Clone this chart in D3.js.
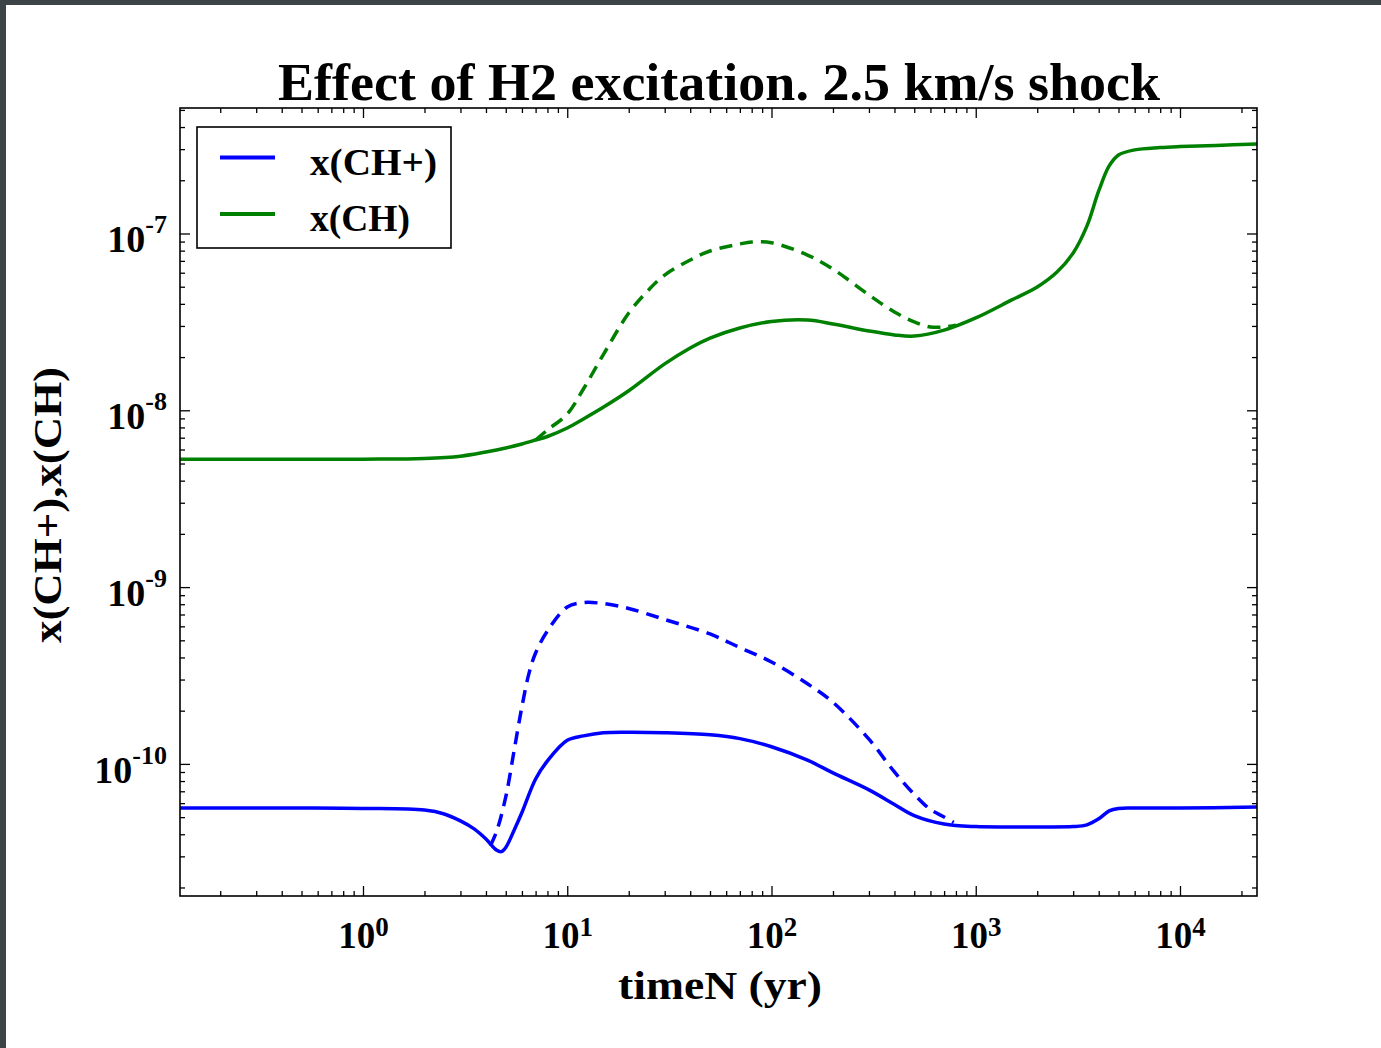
<!DOCTYPE html>
<html>
<head>
<meta charset="utf-8">
<script src="https://cdn.jsdelivr.net/npm/d3@7"></script>
<style>
  body { margin: 0; background: #fff; }
  svg { display: block; }
  text { font-family: "Liberation Serif", "DejaVu Serif", serif; font-weight: bold; fill: #000; }
</style>
</head>
<body>
<svg id="chart" width="1381" height="1048"></svg>
<script>
// ---- data: abundances vs. time (yr) ----
// x(CH), solid
const chTime   = [0.127, 0.3, 1, 2, 3, 4, 5, 6, 7, 8, 10, 12, 15, 20, 30, 40, 50, 70, 100, 150, 200, 300, 400, 500, 700, 1000, 1500, 2000, 2500, 3000, 3500, 4000, 4500, 5000, 6000, 8000, 10000, 15000, 23826];
const chSolid  = [5.28e-9, 5.28e-9, 5.29e-9, 5.34e-9, 5.50e-9, 5.81e-9, 6.12e-9, 6.45e-9, 6.79e-9, 7.11e-9, 7.94e-9, 8.93e-9, 1.04e-8, 1.29e-8, 1.83e-8, 2.25e-8, 2.56e-8, 2.92e-8, 3.18e-8, 3.24e-8, 3.08e-8, 2.81e-8, 2.67e-8, 2.63e-8, 2.84e-8, 3.33e-8, 4.21e-8, 4.98e-8, 6.05e-8, 7.76e-8, 1.10e-7, 1.74e-7, 2.41e-7, 2.78e-7, 2.97e-7, 3.06e-7, 3.10e-7, 3.15e-7, 3.21e-7];
// x(CH), dashed
const chDashTime = [7, 8, 10, 12, 15, 20, 25, 30, 40, 50, 70, 80, 100, 150, 200, 300, 400, 500, 600, 700, 800];
const chDashed   = [6.79e-9, 7.74e-9, 9.53e-9, 1.32e-8, 2.06e-8, 3.55e-8, 4.79e-8, 5.82e-8, 7.08e-8, 7.96e-8, 8.72e-8, 8.95e-8, 8.87e-8, 7.55e-8, 6.29e-8, 4.49e-8, 3.60e-8, 3.16e-8, 2.96e-8, 2.96e-8, 3.03e-8];
// x(CH+), solid
const chpTime  = [0.127, 0.5, 1, 2, 2.5, 3, 3.5, 4, 4.5, 4.75, 5, 5.5, 6, 7, 8, 10, 12, 15, 20, 30, 50, 70, 100, 150, 200, 300, 400, 500, 700, 1000, 1500, 2000, 3000, 3500, 4000, 4500, 5000, 6000, 10000, 23826];
const chpSolid = [5.63e-11, 5.63e-11, 5.60e-11, 5.48e-11, 5.21e-11, 4.76e-11, 4.29e-11, 3.76e-11, 3.26e-11, 3.19e-11, 3.37e-11, 4.23e-11, 5.31e-11, 8.22e-11, 1.04e-10, 1.36e-10, 1.44e-10, 1.50e-10, 1.51e-10, 1.50e-10, 1.46e-10, 1.39e-10, 1.25e-10, 1.05e-10, 8.89e-11, 7.13e-11, 5.90e-11, 5.10e-11, 4.57e-11, 4.42e-11, 4.40e-11, 4.40e-11, 4.42e-11, 4.52e-11, 4.89e-11, 5.42e-11, 5.60e-11, 5.63e-11, 5.63e-11, 5.70e-11];
// x(CH+), dashed
const chpDashTime = [4.2, 4.5, 5, 5.5, 6, 6.5, 7, 8, 10, 12, 15, 20, 30, 50, 70, 100, 150, 200, 300, 400, 500, 600, 700, 780];
const chpDashed   = [3.44e-11, 4.12e-11, 6.50e-11, 1.20e-10, 2.11e-10, 3.26e-10, 4.24e-10, 5.65e-10, 7.71e-10, 8.18e-10, 8.07e-10, 7.57e-10, 6.56e-10, 5.43e-10, 4.55e-10, 3.77e-10, 2.84e-10, 2.23e-10, 1.38e-10, 9.00e-11, 6.73e-11, 5.52e-11, 5.01e-11, 4.66e-11];

// ticks
const xMajorExp = [0, 1, 2, 3, 4];
const yMajorExp = [-10, -9, -8, -7];
const legendLabels = ["x(CH+)", "x(CH)"];

const colors = { chp: "#0000ff", ch: "#008000" };

// ---- layout ----
const svg = d3.select("#chart");
const W = 1381, H = 1048;
const plot = { left: 180, right: 1257, top: 108, bottom: 896 };

svg.append("rect").attr("width", W).attr("height", H).attr("fill", "#fff");
// dark frame strips at the window edges
svg.append("rect").attr("x", 0).attr("y", 0).attr("width", W).attr("height", 5).attr("fill", "#3c4448");
svg.append("rect").attr("x", 0).attr("y", 0).attr("width", 6).attr("height", H).attr("fill", "#3c4448");

const x = d3.scaleLog().domain([0.12707, 23826]).range([plot.left, plot.right]);
const y = d3.scaleLog().domain([1.790e-11, 5.126e-7]).range([plot.bottom, plot.top]);

// minor tick values (2..9 per decade inside the domain)
function minors(scale, kFrom, kTo) {
  const [a, b] = scale.domain();
  const out = [];
  for (let k = kFrom; k <= kTo; k++)
    for (let m = 2; m <= 9; m++) {
      const v = m * Math.pow(10, k);
      if (v >= a && v <= b) out.push(v);
    }
  return out;
}
const xMinor = minors(x, -1, 4);
const yMinor = minors(y, -11, -7);
const xMajor = xMajorExp.map(e => Math.pow(10, e));
const yMajor = yMajorExp.map(e => Math.pow(10, e));

// ---- curves ----
const line = d3.line().x(d => x(d[0])).y(d => y(d[1])).curve(d3.curveCatmullRom.alpha(0.5));
const zip = (t, v) => t.map((ti, i) => [ti, v[i]]);

const curves = svg.append("g");
curves.append("path").attr("d", line(zip(chDashTime, chDashed)))
  .attr("fill", "none").attr("stroke", colors.ch).attr("stroke-width", 3.5).attr("stroke-dasharray", "13,8");
curves.append("path").attr("d", line(zip(chpDashTime, chpDashed)))
  .attr("fill", "none").attr("stroke", colors.chp).attr("stroke-width", 3.5).attr("stroke-dasharray", "13,8");
curves.append("path").attr("d", line(zip(chTime, chSolid)))
  .attr("fill", "none").attr("stroke", colors.ch).attr("stroke-width", 3.5);
curves.append("path").attr("d", line(zip(chpTime, chpSolid)))
  .attr("fill", "none").attr("stroke", colors.chp).attr("stroke-width", 3.5);

// ---- axes (ticks point inward on all four sides) ----
function tickGroup(axis, tx, ty) {
  const g = svg.append("g").attr("transform", `translate(${tx},${ty})`).call(axis);
  g.select(".domain").remove();
  g.selectAll(".tick line").attr("stroke", "#000").attr("stroke-width", 1.3);
  return g;
}
// minor ticks
tickGroup(d3.axisBottom(x).tickValues(xMinor).tickSize(-5).tickFormat(() => ""), 0, plot.bottom);
tickGroup(d3.axisTop(x).tickValues(xMinor).tickSize(-5).tickFormat(() => ""), 0, plot.top);
tickGroup(d3.axisLeft(y).tickValues(yMinor).tickSize(-5).tickFormat(() => ""), plot.left, 0);
tickGroup(d3.axisRight(y).tickValues(yMinor).tickSize(-5).tickFormat(() => ""), plot.right, 0);
// major ticks
const xb = tickGroup(d3.axisBottom(x).tickValues(xMajor).tickSize(-10), 0, plot.bottom);
tickGroup(d3.axisTop(x).tickValues(xMajor).tickSize(-10).tickFormat(() => ""), 0, plot.top);
const yl = tickGroup(d3.axisLeft(y).tickValues(yMajor).tickSize(-10), plot.left, 0);
tickGroup(d3.axisRight(y).tickValues(yMajor).tickSize(-10).tickFormat(() => ""), plot.right, 0);

// power-of-ten labels with superscript exponents
xb.selectAll(".tick text").each(function (d) {
  const t = d3.select(this).text(null)
    .attr("y", 52).attr("dy", null).attr("font-size", 37).attr("text-anchor", "middle")
    .attr("font-family", null).attr("fill", "#000");
  t.append("tspan").text("10");
  t.append("tspan").attr("dy", -12).attr("font-size", 27).text(Math.round(Math.log10(d)));
});
yl.selectAll(".tick text").each(function (d) {
  const t = d3.select(this).text(null)
    .attr("x", -13).attr("y", 18.5).attr("dy", null).attr("font-size", 38).attr("text-anchor", "end")
    .attr("font-family", null).attr("fill", "#000");
  t.append("tspan").text("10");
  t.append("tspan").attr("dy", -19).attr("font-size", 26).text(String(Math.round(Math.log10(d))));
});

// plot frame
svg.append("rect")
  .attr("x", plot.left).attr("y", plot.top)
  .attr("width", plot.right - plot.left).attr("height", plot.bottom - plot.top)
  .attr("fill", "none").attr("stroke", "#000").attr("stroke-width", 1.6);

// ---- titles ----
svg.append("text").attr("x", 719).attr("y", 100).attr("text-anchor", "middle")
  .attr("font-size", 52).attr("textLength", 882).attr("lengthAdjust", "spacingAndGlyphs")
  .text("Effect of H2 excitation. 2.5 km/s shock");
svg.append("text").attr("x", 720).attr("y", 999).attr("text-anchor", "middle")
  .attr("font-size", 39).attr("textLength", 204).attr("lengthAdjust", "spacingAndGlyphs")
  .text("timeN (yr)");
svg.append("text").attr("transform", "translate(61,505) rotate(-90)").attr("text-anchor", "middle")
  .attr("font-size", 39).attr("textLength", 276).attr("lengthAdjust", "spacingAndGlyphs")
  .text("x(CH+),x(CH)");

// ---- legend ----
const leg = svg.append("g");
leg.append("rect").attr("x", 197).attr("y", 127).attr("width", 254).attr("height", 121)
  .attr("fill", "#fff").attr("stroke", "#000").attr("stroke-width", 1.6);
const legColors = [colors.chp, colors.ch];
const legWidths = [127, 100];
legendLabels.forEach((lab, i) => {
  const cy = 157.5 + i * 56.5;
  leg.append("line").attr("x1", 220).attr("x2", 275).attr("y1", cy).attr("y2", cy)
    .attr("stroke", legColors[i]).attr("stroke-width", 4);
  leg.append("text").attr("x", 310).attr("y", cy + 17).attr("font-size", 37)
    .attr("textLength", legWidths[i]).attr("lengthAdjust", "spacingAndGlyphs").text(lab);
});
</script>
</body>
</html>
